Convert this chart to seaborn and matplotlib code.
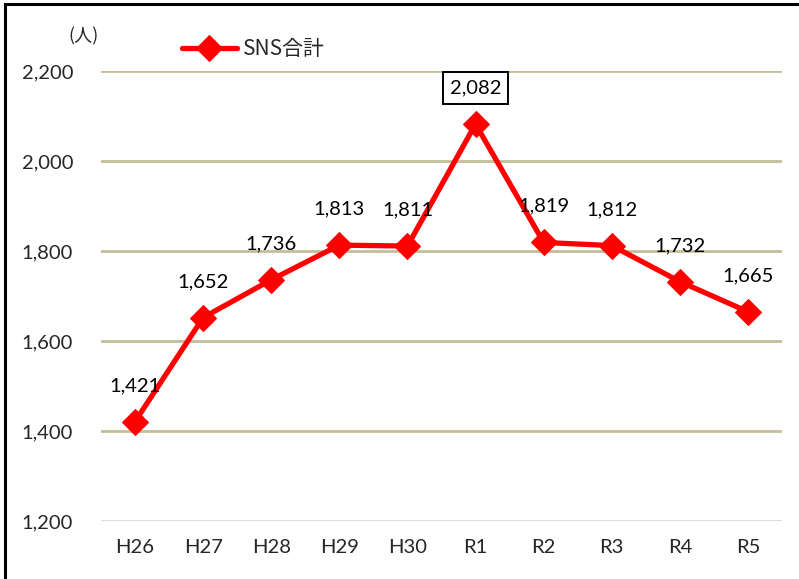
import matplotlib
matplotlib.use("Agg")
import matplotlib.pyplot as plt
import seaborn as sns
import pandas as pd
from matplotlib.patches import Rectangle

years = ["H26", "H27", "H28", "H29", "H30", "R1", "R2", "R3", "R4", "R5"]
sns_total = [1421, 1652, 1736, 1813, 1811, 2082, 1819, 1812, 1732, 1665]
yticks = [1200, 1400, 1600, 1800, 2000, 2200]

df = pd.DataFrame({"year": years, "SNS合計": sns_total})
df["x"] = range(len(df))

sns.set_theme(style="white")
plt.rcParams["font.family"] = ["Lato", "Noto Sans CJK JP", "DejaVu Sans"]

fig = plt.figure(figsize=(7.99, 5.79), dpi=100)
ax = fig.add_axes([0.1264, 0.1002, 0.8523, 0.7772])

sns.lineplot(data=df, x="x", y="SNS合計", ax=ax, color="#FF0000", linewidth=3.8,
             marker="D", markersize=13, markeredgecolor="#FF0000",
             label="SNS合計", zorder=5)

ax.set_xlim(-0.5, len(years) - 0.5)
ax.set_ylim(1200, 2200)
ax.set_yticks(yticks)
ax.set_yticklabels([f"{v:,}" for v in yticks], fontsize=14.5)
ax.set_xticks(df["x"])
ax.set_xticklabels(years, fontsize=14.5)
ax.tick_params(axis="y", pad=20, length=0)
ax.tick_params(axis="x", pad=13, length=0)
ax.set_xlabel("")
ax.set_ylabel("")

for v in yticks:
    ax.axhline(v, color="#D9D9D9" if v == 1200 else "#C4BD97", linewidth=2, zorder=1)
for s in ax.spines.values():
    s.set_visible(False)

for xi, v in zip(df["x"], sns_total):
    box = dict(boxstyle="square,pad=0.35", fc="white", ec="black", lw=1.4) if v == max(sns_total) else None
    ax.annotate(f"{v:,}", (xi, v), xytext=(0, 26), textcoords="offset points",
                ha="center", va="center", fontsize=14.5, color="black", bbox=box, zorder=6)

leg = ax.legend(loc="upper left", bbox_to_anchor=(0.092, 1.115), frameon=False,
                handlelength=2.6, handletextpad=0.3,
                prop={"family": ["Noto Sans CJK JP"], "size": 15})

fig.text(83 / 799, 1 - 36 / 579, "(人)", ha="center", va="center", fontsize=13,
         family=["Noto Sans CJK JP"])

fig.patches.append(Rectangle((5 / 799, -0.1), 1.2, 1 - 4 / 579 + 0.1, transform=fig.transFigure,
                             fill=False, ec="black", lw=2.2))

fig.savefig("out.png", dpi=100)
